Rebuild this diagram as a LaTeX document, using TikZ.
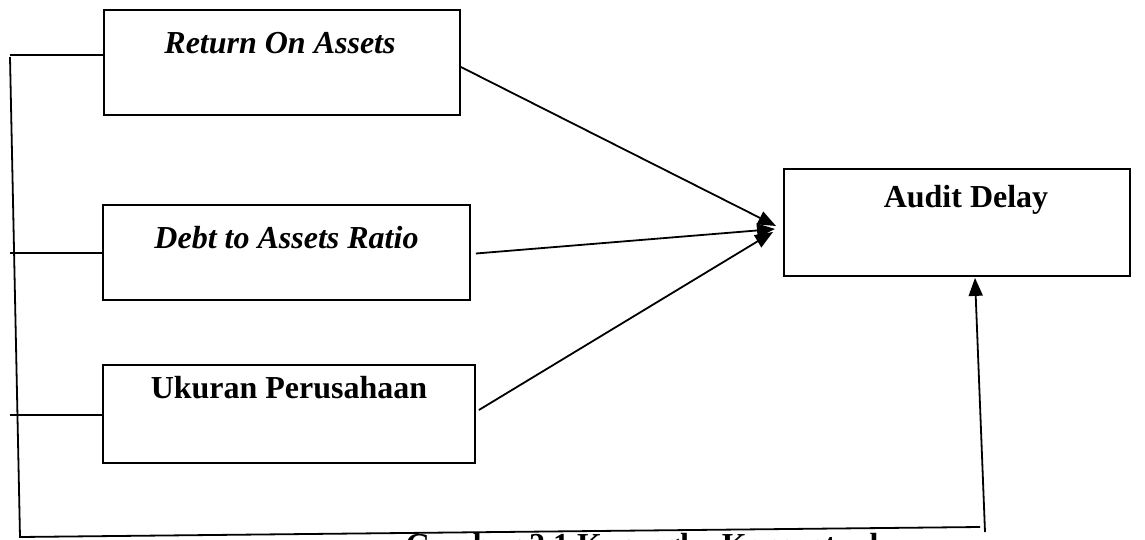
\documentclass[tikz,border=0pt]{standalone}
\usepackage{fontspec}
\setmainfont{Liberation Serif}
\usetikzlibrary{arrows.meta,calc}
\begin{document}
\begin{tikzpicture}[x=1pt,y=-1pt,
  box/.style={draw,line width=1.8pt,minimum width=#1,inner sep=0pt},
  lbl/.style={font=\fontsize{32}{36}\selectfont\bfseries,inner sep=0pt},
  ln/.style={line width=1.8pt},
  arr/.style={line width=1.8pt,-{Triangle[length=18pt,width=14pt]}}]
\useasboundingbox (0,0) rectangle (1145,540);
\node[box=356pt,minimum height=105pt] (roa) at (282,62.5) {};
\node[box=367pt,minimum height=95pt] (dar) at (286.5,252.5) {};
\node[box=372pt,minimum height=98pt] (up) at (289,414) {};
\node[box=346pt,minimum height=107pt] (ad) at (957,222.5) {};
\node[lbl,font=\fontsize{32}{36}\selectfont\bfseries\itshape] (troa) at (280,43) {Return On Assets};
\node[lbl,font=\fontsize{32}{36}\selectfont\bfseries\itshape] (tdar) at (286.5,238) {Debt to Assets Ratio};
\node[lbl] (tup) at (289,388) {Ukuran Perusahaan};
\node[lbl] (tad) at (966,200) {Audit Delay};
\node[lbl,anchor=base] (cap) at (642,555) {Gambar 2.1 Kerangka Konseptual};
\coordinate (tl) at (10,55);
\coordinate (bl) at (20,537);
\coordinate (br) at (980,527);
\coordinate (bs) at (985,532);
\coordinate (l2) at (10,253);
\coordinate (l3) at (10,415);
\coordinate (hub1) at (776,226);
\coordinate (hub2) at (775,229);
\coordinate (hub3) at (773,232);
\draw[ln] (roa.west |- tl) -- (tl);
\draw[ln] ($(tl)+(0,2)$) -- (bl) -- (br);
\draw[ln] (l2) -- (dar.west |- l2);
\draw[ln] (l3) -- (up.west |- l3);
\draw[arr] (roa.east |- 0,67) -- (hub1);
\draw[arr] ($(dar.east)+(5,1)$) -- (hub2);
\draw[arr] ($(up.east)+(3,-4)$) -- (hub3);
\draw[arr] (bs) -- ($(ad.south)+(18,1)$);
\end{tikzpicture}
\end{document}
